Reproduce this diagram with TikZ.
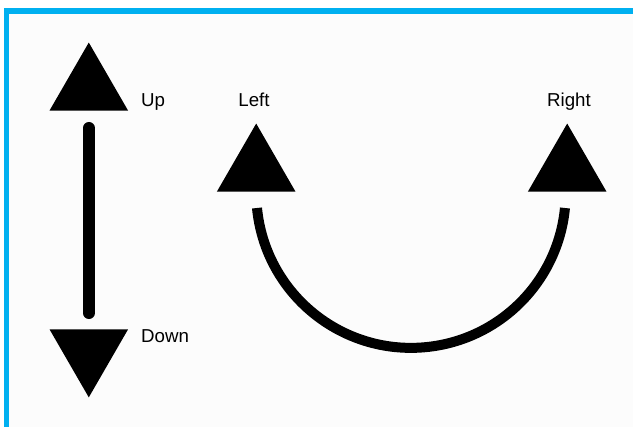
\documentclass[tikz,border=0pt]{standalone}
\usepackage{fontspec}
\setmainfont{Liberation Sans}
\usetikzlibrary{shapes.geometric}
\definecolor{frameblue}{HTML}{00B0F0}
\definecolor{paper}{HTML}{FCFCFC}
\tikzset{
  tri/.style={regular polygon, regular polygon sides=3, fill=black, draw=none,
    inner sep=0pt, outer sep=0pt, minimum size=90.7pt},
  label text/.style={font=\fontsize{18.7}{22}\selectfont, inner sep=0pt, anchor=base},
  bar/.style={line width=12pt, line cap=round},
  curve/.style={line width=10pt}
}
\begin{document}
\begin{tikzpicture}[x=1pt,y=-1pt]
\useasboundingbox (0,0) rectangle (633,427);
\fill[white] (0,0) rectangle (633,427);
\fill[paper] (9,14) rectangle (633,427);
\fill[frameblue] (4,8) rectangle (633,14);
\fill[frameblue] (4,8) rectangle (9,427);

\node[tri] (up) at (88.8,87.9) {};
\node[tri, shape border rotate=180] (down) at (88.8,352.0) {};
\node[tri] (left) at (256.2,168.9) {};
\node[tri] (right) at (567.2,168.9) {};

\node[label text, anchor=base west] (tup) at (141,106.5) {Up};
\node[label text, anchor=base west] (tdown) at (141,343) {Down};
\node[label text] (tleft) at (254,107) {Left};
\node[label text] (tright) at (569,107) {Right};

\draw[bar, shorten <=17.4pt, shorten >=16.3pt] (up.south) -- (down.north);

\coordinate (la) at (257,208);
\draw[curve] (la) arc[start angle=174.5, end angle=5.5, radius=154.7] coordinate (ra);
\end{tikzpicture}
\end{document}
